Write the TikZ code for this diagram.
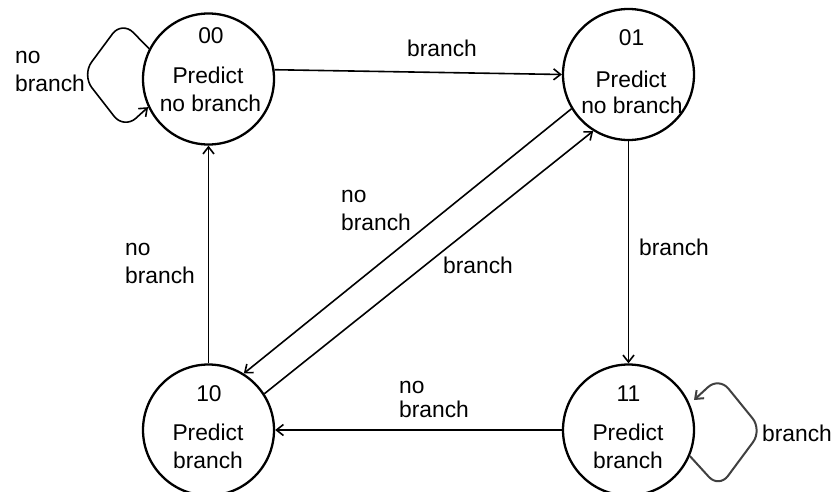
\documentclass[tikz,border=0pt]{standalone}
\usepackage{fontspec}
\setmainfont{Liberation Sans}
\usetikzlibrary{arrows.meta}
\begin{document}
\begin{tikzpicture}[x=1pt,y=-1pt,
  state/.style={circle,draw,line width=2.3pt,minimum size=131pt,inner sep=0pt},
  txt/.style={inner sep=0pt,anchor=base,font=\fontsize{22.8}{27}\selectfont},
  lbl/.style={inner sep=0pt,anchor=base west,font=\fontsize{22.8}{27}\selectfont},
  edge/.style={line width=1.6pt,-{Straight Barb[length=7pt,width=11pt]}}]
\useasboundingbox (0,0) rectangle (832,492);
% states
\node[state] (n00) at (208.5,79) {};
\node[state] (n01) at (628.5,74.5) {};
\node[state] (n10) at (208.5,430) {};
\node[state] (n11) at (628.5,430) {};
% state texts
\node[txt] (t00a) at (211,43.3) {00};
\node[txt] (t00b) at (208,84) {Predict};
\node[txt] (t00c) at (210.5,111.7) {no branch};
\node[txt] (t01a) at (631.5,45.7) {01};
\node[txt] (t01b) at (631,87.3) {Predict};
\node[txt] (t01c) at (632,113.3) {no branch};
\node[txt] (t10a) at (209,401) {10};
\node[txt] (t10b) at (208,440) {Predict};
\node[txt] (t10c) at (208,468.3) {branch};
\node[txt] (t11a) at (628.5,401) {11};
\node[txt] (t11b) at (628,440) {Predict};
\node[txt] (t11c) at (628,468.3) {branch};
% edge labels
\node[lbl] (la1) at (15,64) {no};
\node[lbl] (la2) at (15,91.5) {branch};
\node[lbl] (lb) at (407,57) {branch};
\node[lbl] (lc1) at (341,202.7) {no};
\node[lbl] (lc2) at (341,230) {branch};
\node[lbl] (ld) at (443,273) {branch};
\node[lbl] (le) at (639,255) {branch};
\node[lbl] (lf1) at (125,255) {no};
\node[lbl] (lf2) at (125,283) {branch};
\node[lbl] (lg1) at (399,393) {no};
\node[lbl] (lg2) at (399,417) {branch};
\node[lbl] (lh) at (762,441.7) {branch};
% edges
\draw[edge] (n00.8) -- (n01.180);
\draw[edge] (n01.south) -- (n11.north);
\draw[edge] (n11.west) -- (n10.east);
\draw[edge] (n10.north) -- (n00.south);
\draw[edge] (n01.211) -- (n10.58);
\draw[edge] (n10.33) -- (n01.238);
% self loops
\draw[edge,rounded corners=16pt] (n00.153) -- (122,21) -- (82,75) -- (124,129) -- (n00.205);
\coordinate (e11) at (694,400);
\draw[edge,black!75,line width=2pt,rounded corners=15pt] (n11.-23) -- (719,488) -- (762,430) -- (719,377) -- (e11);
\end{tikzpicture}
\end{document}
